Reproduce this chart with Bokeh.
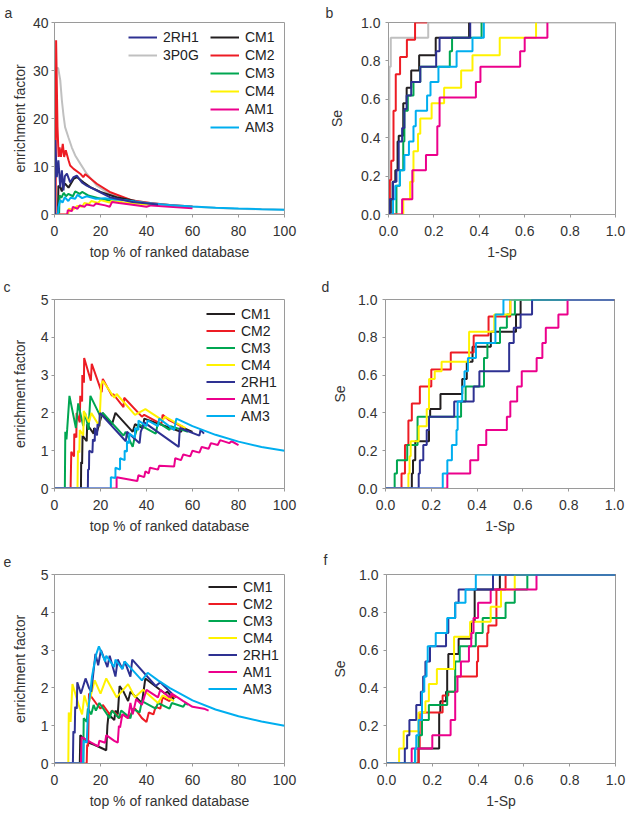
from bokeh.plotting import figure
from bokeh.layouts import column, row
from bokeh.models import Legend, LegendItem, Range1d, FixedTicker, NumeralTickFormatter
from bokeh.embed import file_html
from bokeh.resources import INLINE

FONT = "Liberation Sans"
FRAME_GRAY = "#9a9a9a"
TEXT = "#333333"

C_CM1 = "#231f20"
C_CM2 = "#ed1c24"
C_CM3 = "#00a651"
C_CM4 = "#fff200"
C_2RH1 = "#2e3192"
C_3P0G = "#c0c0c0"
C_AM1 = "#ec008c"
C_AM3 = "#00aeef"

# ---------------- panel a : enrichment factor (% of ranked database) ----------------
a_x_3P0G = [0, 0.3, 0.7, 1.6, 2.5, 3.2, 3.9, 4.6, 6.1, 7.5, 9, 11.2, 14, 18.4, 24, 34, 41.6, 56, 78, 100]
a_y_3P0G = [0, 20, 30.5, 30.5, 28, 23.8, 20.7, 18.2, 16, 14, 12.3, 10.6, 8.5, 6, 4.3, 2.9, 2.4, 1.7, 1.2, 1.0]
a_x_CM2 = [0, 0.5, 0.7, 1.3, 1.8, 2.2, 2.8, 3.6, 4.2, 4.9, 6.1, 6.8, 8.3, 11.2, 12.5, 13.4, 18.4, 24, 34, 41.6, 50, 60]
a_y_CM2 = [0, 0, 36.3, 18.2, 12, 14, 12, 14.7, 12, 13.4, 11.3, 10.2, 9.5, 8.5, 7.8, 8.4, 6.4, 4.7, 2.9, 2.4, 2.0, 1.67]
a_x_CM1 = [0, 1.5, 1.7, 2.5, 3.2, 3.9, 4.6, 6.1, 8.3, 9.7, 12.6, 15.5, 20, 27, 35]
a_y_CM1 = [0, 0, 6, 5.7, 4.8, 6.2, 6.4, 5.6, 7.4, 7.8, 6.7, 5.7, 4.7, 3.6, 2.8]
a_x_CM3 = [0, 2, 2.2, 3, 4, 5, 6, 8, 9, 11, 12, 15, 20, 25, 30, 35]
a_y_CM3 = [0, 0, 4, 3.5, 4.5, 3.8, 4.3, 3.8, 4.8, 4.3, 4.7, 3.9, 3.3, 2.8, 2.4, 2.3]
a_x_CM4 = [0, 6, 6.2, 8, 10, 12, 13, 15, 16, 19, 20, 24, 25, 30, 35, 40, 45]
a_y_CM4 = [0, 0, 1.2, 1.0, 1.8, 1.6, 2.4, 2.2, 2.8, 2.4, 3.0, 2.5, 2.9, 2.5, 2.3, 2.1, 2.0]
a_x_AM1 = [0, 5.5, 5.8, 7.5, 8, 10, 11, 13, 14, 17, 18, 22, 24, 25, 28, 33, 37, 40, 42, 50, 60]
a_y_AM1 = [0, 0, 0.9, 0.7, 1.6, 1.2, 1.9, 1.6, 2.1, 1.8, 2.3, 1.9, 1.6, 2.6, 2.4, 2.1, 1.8, 1.6, 1.9, 1.6, 1.3]
a_x_AM3 = [0, 1.5, 1.7, 2.5, 3.5, 4.5, 6, 7, 9, 10, 12, 14, 18, 22, 26, 30, 40, 50, 60, 70, 80, 90, 100]
a_y_AM3 = [0, 0, 1.5, 3, 2.5, 3.6, 2.8, 3.5, 3.3, 4.1, 3.4, 3.8, 3.3, 3.4, 3.1, 3.0, 2.4, 2.0, 1.67, 1.43, 1.25, 1.11, 1.0]
a_x_2RH1 = [0, 0.2, 0.3, 1.0, 1.7, 2.5, 3.2, 3.9, 4.5, 5.4, 6.8, 8.3, 9.7, 11.9, 14, 18.4, 24, 34, 45]
a_y_2RH1 = [0, 0, 15.5, 7.8, 11.3, 5.7, 9.2, 5, 8, 8.5, 6.7, 7.8, 8.1, 6.7, 6, 5, 3.6, 2.6, 2.1]

# ---------------- panel b : ROC (1-Sp, Se) ----------------
b_x_3P0G = [0, 0.004, 0.01, 0.175, 1.0]
b_y_3P0G = [0, 0.77, 0.92, 1.0, 1.0]
b_x_CM2 = [0, 0.006, 0.012, 0.022, 0.032, 0.051, 0.081, 0.117, 0.17]
b_y_CM2 = [0, 0.18, 0.28, 0.54, 0.73, 0.82, 0.91, 1.0, 1.0]
b_x_CM1 = [0, 0.01, 0.018, 0.03, 0.04, 0.045, 0.065, 0.08, 0.1, 0.135, 0.208, 0.355]
b_y_CM1 = [0, 0.08, 0.17, 0.23, 0.38, 0.41, 0.58, 0.66, 0.75, 0.83, 0.92, 1.0]
b_x_2RH1 = [0, 0.005, 0.02, 0.035, 0.045, 0.06, 0.07, 0.08, 0.1, 0.14, 0.21, 0.225, 0.36]
b_y_2RH1 = [0, 0.08, 0.17, 0.23, 0.38, 0.45, 0.55, 0.62, 0.69, 0.77, 0.85, 0.92, 1.0]
b_x_CM3 = [0, 0.035, 0.05, 0.065, 0.07, 0.085, 0.11, 0.14, 0.27, 0.28, 0.41]
b_y_CM3 = [0, 0.15, 0.23, 0.38, 0.54, 0.62, 0.69, 0.77, 0.85, 0.92, 1.0]
b_x_AM3 = [0, 0.02, 0.03, 0.05, 0.07, 0.09, 0.11, 0.12, 0.17, 0.185, 0.22, 0.30, 0.37, 0.42]
b_y_AM3 = [0, 0.08, 0.15, 0.23, 0.31, 0.38, 0.46, 0.54, 0.62, 0.69, 0.77, 0.85, 0.92, 1.0]
b_x_CM4 = [0, 0.065, 0.095, 0.11, 0.13, 0.14, 0.19, 0.245, 0.32, 0.37, 0.49, 0.65]
b_y_CM4 = [0, 0.08, 0.17, 0.33, 0.42, 0.50, 0.58, 0.66, 0.75, 0.83, 0.92, 1.0]
b_x_AM1 = [0, 0.06, 0.105, 0.165, 0.215, 0.225, 0.385, 0.405, 0.58, 0.6, 0.70]
b_y_AM1 = [0, 0.08, 0.23, 0.31, 0.46, 0.61, 0.69, 0.77, 0.85, 0.92, 1.0]

# ---------------- panel c : enrichment factor ----------------
c_x_CM1 = [0, 11.5, 11.6, 12, 12.2, 14, 14.2, 17, 17.2, 18.5, 20.8, 25, 26.5, 34, 35, 38.5, 39, 55, 56, 60]
c_y_CM1 = [0, 0, 0.7, 0.65, 1.4, 1.25, 1.7, 1.45, 1.6, 1.5, 2.0, 1.7, 2.0, 1.5, 1.7, 1.6, 1.85, 1.5, 1.6, 1.5]
c_x_CM2 = [0, 7, 7.3, 8.5, 8.6, 9.5, 9.6, 11, 11.2, 12, 12.1, 12.8, 12.9, 15.8, 16.2, 20.5, 21, 25, 25.5, 30, 30.3, 38, 39, 46.5, 47, 50, 56]
c_y_CM2 = [0, 0, 0.97, 0.85, 1.45, 1.35, 2.0, 1.75, 2.45, 2.3, 3.0, 2.8, 3.45, 2.85, 3.3, 2.55, 2.9, 2.45, 2.5, 2.15, 2.4, 1.9, 1.95, 1.7, 1.95, 1.8, 1.62]
c_x_CM3 = [0, 4.5, 4.7, 5.2, 5.5, 6.5, 9.3, 10.3, 12.5, 13.3, 14.8, 15.6, 20, 21, 30, 31, 34, 35, 36.5, 44, 45, 50, 50.5, 58]
c_y_CM3 = [0, 0, 1.5, 1.3, 1.55, 2.45, 1.6, 2.25, 1.65, 2.0, 1.55, 2.45, 1.9, 2.0, 1.4, 1.5, 1.1, 1.4, 1.7, 1.45, 1.75, 1.55, 1.65, 1.5]
c_x_CM4 = [0, 10, 10.2, 10.8, 11, 12.5, 12.7, 15, 16, 19.5, 20.3, 21, 26, 27, 35, 39.5, 47, 48, 57]
c_y_CM4 = [0, 0, 1.0, 0.95, 1.55, 1.4, 2.05, 1.75, 2.0, 1.65, 2.75, 2.85, 2.4, 2.5, 1.95, 2.1, 1.8, 1.9, 1.6]
c_x_2RH1 = [0, 14.5, 14.6, 15, 15.1, 16.5, 16.7, 17.5, 17.6, 18.5, 18.7, 19.5, 19.7, 31, 31.5, 37, 37.5, 39, 54, 54.5, 63, 63.5, 65]
c_y_2RH1 = [0, 0, 0.5, 0.5, 1.0, 0.95, 1.3, 1.25, 1.6, 1.4, 1.7, 1.65, 2.0, 1.25, 1.5, 1.2, 1.5, 1.75, 1.1, 1.6, 1.4, 1.55, 1.45]
c_x_AM1 = [0, 27, 27, 36, 36.5, 39, 39.5, 41, 41.5, 45, 45.5, 52, 52.5, 55, 56, 59, 60, 63, 64, 67, 68, 71, 72, 76, 77, 80]
c_y_AM1 = [0, 0, 0.3, 0.2, 0.35, 0.3, 0.45, 0.4, 0.55, 0.5, 0.6, 0.58, 0.8, 0.75, 0.9, 0.85, 1.0, 0.95, 1.1, 1.05, 1.2, 1.15, 1.28, 1.2, 1.25, 1.15]
c_x_AM3 = [0, 24.5, 24.5, 26.5, 26.5, 28.5, 28.5, 30.5, 30.5, 31.5, 31.5, 32.5, 32.5, 35, 35, 36.5, 36.5, 40, 40.5, 45, 45.5, 52, 53, 60, 70, 80, 90, 100]
c_y_AM3 = [0, 0, 0.3, 0.28, 0.55, 0.5, 0.8, 0.75, 1.0, 0.98, 1.25, 1.2, 1.45, 1.35, 1.6, 1.55, 1.8, 1.65, 1.8, 1.65, 1.85, 1.55, 1.85, 1.65, 1.42, 1.24, 1.1, 1.0]

# ---------------- panel d : ROC ----------------
d_x_CM1 = [0, 0.115, 0.12, 0.13, 0.19, 0.195, 0.24, 0.335, 0.355, 0.38, 0.46, 0.57, 0.59, 1.0]
d_y_CM1 = [0, 0.08, 0.15, 0.25, 0.38, 0.42, 0.5, 0.58, 0.67, 0.75, 0.83, 0.92, 1.0, 1.0]
d_x_CM2 = [0, 0.07, 0.085, 0.1, 0.115, 0.15, 0.2, 0.285, 0.385, 0.45, 0.545, 1.0]
d_y_CM2 = [0, 0.08, 0.23, 0.36, 0.45, 0.54, 0.63, 0.72, 0.81, 0.91, 1.0, 1.0]
d_x_CM3 = [0, 0.04, 0.05, 0.095, 0.14, 0.33, 0.35, 0.43, 0.445, 0.5, 0.53, 0.565, 1.0]
d_y_CM3 = [0, 0.08, 0.15, 0.23, 0.38, 0.46, 0.54, 0.69, 0.77, 0.85, 0.92, 1.0, 1.0]
d_x_CM4 = [0, 0.1, 0.105, 0.11, 0.145, 0.18, 0.19, 0.215, 0.245, 0.365, 0.475, 0.545, 1.0]
d_y_CM4 = [0, 0.08, 0.17, 0.25, 0.33, 0.42, 0.58, 0.62, 0.67, 0.83, 0.92, 1.0, 1.0]
d_x_2RH1 = [0, 0.145, 0.15, 0.165, 0.18, 0.19, 0.3, 0.385, 0.41, 0.54, 0.56, 0.59, 0.64, 1.0]
d_y_2RH1 = [0, 0.08, 0.15, 0.23, 0.31, 0.38, 0.46, 0.54, 0.62, 0.77, 0.85, 0.92, 1.0, 1.0]
d_x_AM1 = [0, 0.27, 0.37, 0.405, 0.44, 0.53, 0.545, 0.575, 0.595, 0.66, 0.685, 0.7, 0.755, 0.795, 1.0]
d_y_AM1 = [0, 0.08, 0.15, 0.23, 0.31, 0.38, 0.46, 0.54, 0.62, 0.69, 0.77, 0.85, 0.92, 1.0, 1.0]
d_x_AM3 = [0, 0.25, 0.27, 0.29, 0.31, 0.315, 0.335, 0.345, 0.36, 0.395, 0.48, 0.515, 1.0]
d_y_AM3 = [0, 0.08, 0.15, 0.23, 0.31, 0.46, 0.54, 0.62, 0.69, 0.77, 0.92, 1.0, 1.0]

# ---------------- panel e : enrichment factor ----------------
e_x_CM1 = [0, 11, 11.2, 13, 15, 17, 19, 22.5, 23, 23.5, 26, 26.5, 27.5, 28.3, 30, 32, 33, 38, 39.5, 48, 49, 52]
e_y_CM1 = [0, 0, 0.75, 0.65, 0.55, 0.5, 0.45, 0.35, 1.0, 1.3, 1.15, 1.4, 1.3, 2.05, 1.9, 1.65, 1.9, 1.6, 2.25, 1.85, 1.9, 1.7]
e_x_CM2 = [0, 14, 14.2, 14.6, 15, 18, 20, 21, 24, 25, 27, 28, 30, 32, 35, 38, 40, 41, 43, 44, 46, 47, 50, 51, 53]
e_y_CM2 = [0, 0, 0.5, 0.45, 1.85, 1.6, 1.45, 1.55, 1.3, 1.4, 1.3, 1.2, 1.3, 1.2, 1.45, 1.2, 1.1, 1.35, 1.3, 1.5, 1.45, 1.75, 1.65, 1.8, 1.75]
e_x_CM3 = [0, 12.5, 12.7, 14, 14.5, 16, 17, 18, 19.5, 24, 25, 28, 29, 33, 34, 37, 38, 44, 45, 50, 51, 56, 57, 58]
e_y_CM3 = [0, 0, 1.2, 1.1, 1.45, 1.3, 1.55, 1.4, 1.6, 1.2, 1.4, 1.2, 1.4, 1.2, 1.45, 1.35, 1.65, 1.45, 1.6, 1.45, 1.6, 1.5, 1.6, 1.55]
e_x_CM4 = [0, 6, 6.2, 7, 7.8, 10.5, 12, 13, 14.5, 17.5, 20, 22.5, 27, 32, 35, 38.5, 45, 47, 52]
e_y_CM4 = [0, 0, 1.35, 1.1, 2.1, 1.55, 1.3, 1.8, 1.5, 2.2, 1.85, 2.25, 1.75, 2.1, 1.75, 1.95, 1.6, 1.8, 1.65]
e_x_2RH1 = [0, 8, 8.2, 8.8, 9, 9.7, 9.9, 11.5, 13.5, 15, 16, 17.8, 19, 20.2, 23, 24, 26.5, 27.5, 29.5, 30.5, 33, 33.8, 44, 46, 51]
e_y_2RH1 = [0, 0, 0.85, 0.8, 1.5, 1.45, 2.15, 1.85, 2.25, 2.0, 1.9, 2.9, 2.6, 3.0, 2.55, 2.85, 2.3, 2.75, 2.5, 2.7, 2.3, 2.75, 2.05, 2.15, 1.85]
e_x_AM1 = [0, 11.5, 11.8, 16, 19, 19.5, 22, 22.5, 26, 27.5, 28, 28.5, 29.5, 32, 33, 34, 35.5, 38, 40, 45, 46, 50, 51, 56, 60, 65, 67]
e_y_AM1 = [0, 0, 0.7, 0.55, 0.45, 0.6, 0.55, 0.75, 0.6, 0.55, 1.0, 0.95, 1.3, 1.2, 1.6, 1.3, 1.7, 1.55, 1.95, 1.75, 1.95, 1.75, 1.85, 1.65, 1.5, 1.45, 1.4]
e_x_AM3 = [0, 12.5, 12.7, 14, 14.3, 14.8, 15.6, 16.3, 17.2, 18.2, 19.3, 22, 22.5, 26, 26.5, 29.5, 30.5, 38, 40.5, 45, 50, 60, 70, 80, 90, 100]
e_y_AM3 = [0, 0, 0.6, 0.55, 1.0, 1.5, 1.9, 2.3, 2.6, 2.9, 3.1, 2.7, 2.85, 2.55, 2.75, 2.5, 2.7, 2.2, 2.4, 2.2, 2.0, 1.67, 1.43, 1.25, 1.11, 1.0]

# ---------------- panel f : ROC ----------------
f_x_CM1 = [0, 0.14, 0.23, 0.235, 0.26, 0.265, 0.27, 0.315, 0.37, 0.385, 0.495, 1.0]
f_y_CM1 = [0, 0.08, 0.27, 0.33, 0.38, 0.5, 0.58, 0.66, 0.75, 0.92, 1.0, 1.0]
f_x_CM2 = [0, 0.14, 0.145, 0.245, 0.27, 0.3, 0.395, 0.4, 0.44, 0.445, 0.48, 0.52, 1.0]
f_y_CM2 = [0, 0.08, 0.27, 0.36, 0.38, 0.46, 0.54, 0.62, 0.69, 0.73, 0.92, 1.0, 1.0]
f_x_CM3 = [0, 0.125, 0.14, 0.155, 0.185, 0.265, 0.3, 0.32, 0.39, 0.42, 0.52, 0.56, 0.615, 1.0]
f_y_CM3 = [0, 0.08, 0.15, 0.23, 0.31, 0.38, 0.54, 0.62, 0.69, 0.77, 0.85, 0.92, 1.0, 1.0]
f_x_CM4 = [0, 0.055, 0.075, 0.14, 0.17, 0.185, 0.22, 0.295, 0.365, 0.455, 0.5, 0.56, 1.0]
f_y_CM4 = [0, 0.08, 0.17, 0.27, 0.33, 0.42, 0.5, 0.67, 0.75, 0.83, 0.92, 1.0, 1.0]
f_x_2RH1 = [0, 0.08, 0.09, 0.1, 0.13, 0.15, 0.16, 0.17, 0.19, 0.26, 0.27, 0.3, 0.315, 0.465, 1.0]
f_y_2RH1 = [0, 0.08, 0.15, 0.23, 0.31, 0.38, 0.46, 0.54, 0.62, 0.69, 0.77, 0.85, 0.92, 1.0, 1.0]
f_x_AM1 = [0, 0.11, 0.2, 0.28, 0.3, 0.31, 0.325, 0.36, 0.37, 0.38, 0.4, 0.455, 0.655, 1.0]
f_y_AM1 = [0, 0.08, 0.15, 0.23, 0.38, 0.46, 0.54, 0.62, 0.69, 0.77, 0.85, 0.92, 1.0, 1.0]
f_x_AM3 = [0, 0.125, 0.13, 0.14, 0.155, 0.165, 0.175, 0.18, 0.215, 0.265, 0.3, 0.345, 0.39, 1.0]
f_y_AM3 = [0, 0.08, 0.15, 0.23, 0.38, 0.46, 0.54, 0.62, 0.69, 0.77, 0.85, 0.92, 1.0, 1.0]

ef_xticks = [0, 20, 40, 60, 80, 100]
a_yticks = [0, 10, 20, 30, 40]
ce_yticks = [0, 1, 2, 3, 4, 5]
roc_ticks = [0.0, 0.2, 0.4, 0.6, 0.8, 1.0]


def make_fig(fw, fh, bl, bt, br, bb, xr, yr, xt, yt, xlabel, ylabel,
             y_std, y_lab_std, letter, l_off, l_std, fmt=None):
    p = figure(frame_width=fw, frame_height=fh,
               min_border_left=bl, min_border_top=bt, min_border_right=br, min_border_bottom=bb,
               x_range=Range1d(*xr), y_range=Range1d(*yr), title=letter,
               output_backend="svg", toolbar_location=None, tools="")
    p.title.align = "left"
    p.title.offset = l_off
    p.title.standoff = l_std
    p.title.text_font = FONT
    p.title.text_font_size = "14px"
    p.title.text_font_style = "normal"
    p.title.text_color = TEXT
    p.xgrid.visible = False
    p.ygrid.visible = False
    p.outline_line_color = FRAME_GRAY
    p.outline_line_width = 1
    p.background_fill_color = "white"
    p.border_fill_color = "white"
    for ax, ticks, lab in ((p.xaxis[0], xt, xlabel), (p.yaxis[0], yt, ylabel)):
        ax.ticker = FixedTicker(ticks=ticks)
        ax.axis_line_color = FRAME_GRAY
        ax.major_tick_line_color = FRAME_GRAY
        ax.major_tick_out = 3
        ax.major_tick_in = 0
        ax.minor_tick_line_color = None
        ax.major_label_text_font = FONT
        ax.major_label_text_font_size = "14px"
        ax.major_label_text_color = TEXT
        ax.axis_label = lab
        ax.axis_label_text_font = FONT
        ax.axis_label_text_font_size = "14px"
        ax.axis_label_text_font_style = "normal"
        ax.axis_label_text_color = TEXT
        if fmt:
            ax.formatter = NumeralTickFormatter(format=fmt)
    p.xaxis[0].major_label_standoff = 8
    p.xaxis[0].axis_label_standoff = 5
    p.yaxis[0].major_label_standoff = y_std
    p.yaxis[0].axis_label_standoff = y_lab_std
    return p


def make_legend(items, x, y, row_h):
    return Legend(items=items, location=(x, y), orientation="vertical",
                  padding=0, margin=0, spacing=0, glyph_width=29, glyph_height=row_h,
                  label_height=row_h, label_standoff=6,
                  border_line_color=None, background_fill_alpha=0,
                  label_text_font=FONT, label_text_font_size="14px", label_text_color="#222222")


LW = 2

# ---- panel a
pa = make_fig(230, 192, 54, 22, 36, 56, (0, 100), (0, 40), ef_xticks, a_yticks,
              "top % of ranked database", "enrichment factor", 3, 2, "a", -50, 4)
ra = {}
ra["3P0G"] = pa.line(a_x_3P0G, a_y_3P0G, line_color=C_3P0G, line_width=LW)
ra["CM2"] = pa.line(a_x_CM2, a_y_CM2, line_color=C_CM2, line_width=LW)
ra["CM1"] = pa.line(a_x_CM1, a_y_CM1, line_color=C_CM1, line_width=LW)
ra["CM3"] = pa.line(a_x_CM3, a_y_CM3, line_color=C_CM3, line_width=LW)
ra["CM4"] = pa.line(a_x_CM4, a_y_CM4, line_color=C_CM4, line_width=LW)
ra["AM1"] = pa.line(a_x_AM1, a_y_AM1, line_color=C_AM1, line_width=LW)
ra["AM3"] = pa.line(a_x_AM3, a_y_AM3, line_color=C_AM3, line_width=LW)
ra["2RH1"] = pa.line(a_x_2RH1, a_y_2RH1, line_color=C_2RH1, line_width=LW)
pa.add_layout(make_legend([LegendItem(label=k, renderers=[ra[k]]) for k in ["2RH1", "3P0G"]], 74, 150, 18))
pa.add_layout(make_legend([LegendItem(label=k, renderers=[ra[k]]) for k in ["CM1", "CM2", "CM3", "CM4", "AM1", "AM3"]], 156, 78, 18))

# ---- panel b
pb = make_fig(227, 192, 68, 22, 16, 56, (0, 1), (0, 1), roc_ticks, roc_ticks,
              "1-Sp", "Se", 5, 13, "b", -63, 4, "0.0")
pb.step(b_x_3P0G, b_y_3P0G, mode="after", line_color=C_3P0G, line_width=LW)
pb.step(b_x_CM2, b_y_CM2, mode="after", line_color=C_CM2, line_width=LW)
pb.step(b_x_CM1, b_y_CM1, mode="after", line_color=C_CM1, line_width=LW)
pb.step(b_x_CM3, b_y_CM3, mode="after", line_color=C_CM3, line_width=LW)
pb.step(b_x_CM4, b_y_CM4, mode="after", line_color=C_CM4, line_width=LW)
pb.step(b_x_AM1, b_y_AM1, mode="after", line_color=C_AM1, line_width=LW)
pb.step(b_x_AM3, b_y_AM3, mode="after", line_color=C_AM3, line_width=LW)
pb.step(b_x_2RH1, b_y_2RH1, mode="after", line_color=C_2RH1, line_width=LW)

# ---- panel c
pc = make_fig(230, 189, 54, 29, 36, 52, (0, 100), (0, 5), ef_xticks, ce_yticks,
              "top % of ranked database", "enrichment factor", 3, 10, "c", -51, 9)
rc = {}
rc["CM1"] = pc.line(c_x_CM1, c_y_CM1, line_color=C_CM1, line_width=LW)
rc["CM2"] = pc.line(c_x_CM2, c_y_CM2, line_color=C_CM2, line_width=LW)
rc["CM3"] = pc.line(c_x_CM3, c_y_CM3, line_color=C_CM3, line_width=LW)
rc["CM4"] = pc.line(c_x_CM4, c_y_CM4, line_color=C_CM4, line_width=LW)
rc["2RH1"] = pc.line(c_x_2RH1, c_y_2RH1, line_color=C_2RH1, line_width=LW)
rc["AM1"] = pc.line(c_x_AM1, c_y_AM1, line_color=C_AM1, line_width=LW)
rc["AM3"] = pc.line(c_x_AM3, c_y_AM3, line_color=C_AM3, line_width=LW)
pc.add_layout(make_legend([LegendItem(label=k, renderers=[rc[k]]) for k in ["CM1", "CM2", "CM3", "CM4", "2RH1", "AM1", "AM3"]], 152, 64, 17))

# ---- panel d
pd_ = make_fig(229, 189, 65, 29, 17, 52, (0, 1), (0, 1), roc_ticks, roc_ticks,
               "1-Sp", "Se", 5, 7, "d", -64, 9, "0.0")
pd_.step(d_x_CM1, d_y_CM1, mode="after", line_color=C_CM1, line_width=LW)
pd_.step(d_x_CM2, d_y_CM2, mode="after", line_color=C_CM2, line_width=LW)
pd_.step(d_x_CM3, d_y_CM3, mode="after", line_color=C_CM3, line_width=LW)
pd_.step(d_x_CM4, d_y_CM4, mode="after", line_color=C_CM4, line_width=LW)
pd_.step(d_x_2RH1, d_y_2RH1, mode="after", line_color=C_2RH1, line_width=LW)
pd_.step(d_x_AM1, d_y_AM1, mode="after", line_color=C_AM1, line_width=LW)
pd_.step(d_x_AM3, d_y_AM3, mode="after", line_color=C_AM3, line_width=LW)

# ---- panel e
pe = make_fig(230, 189, 54, 34, 36, 50, (0, 100), (0, 5), ef_xticks, ce_yticks,
              "top % of ranked database", "enrichment factor", 3, 10, "e", -51, 15)
re_ = {}
re_["CM1"] = pe.line(e_x_CM1, e_y_CM1, line_color=C_CM1, line_width=LW)
re_["CM2"] = pe.line(e_x_CM2, e_y_CM2, line_color=C_CM2, line_width=LW)
re_["CM3"] = pe.line(e_x_CM3, e_y_CM3, line_color=C_CM3, line_width=LW)
re_["CM4"] = pe.line(e_x_CM4, e_y_CM4, line_color=C_CM4, line_width=LW)
re_["2RH1"] = pe.line(e_x_2RH1, e_y_2RH1, line_color=C_2RH1, line_width=LW)
re_["AM1"] = pe.line(e_x_AM1, e_y_AM1, line_color=C_AM1, line_width=LW)
re_["AM3"] = pe.line(e_x_AM3, e_y_AM3, line_color=C_AM3, line_width=LW)
pe.add_layout(make_legend([LegendItem(label=k, renderers=[re_[k]]) for k in ["CM1", "CM2", "CM3", "CM4", "2RH1", "AM1", "AM3"]], 154, 66, 17))

# ---- panel f
pf = make_fig(229, 189, 66, 34, 16, 50, (0, 1), (0, 1), roc_ticks, roc_ticks,
              "1-Sp", "Se", 5, 8, "f", -63, 14, "0.0")
pf.step(f_x_CM1, f_y_CM1, mode="after", line_color=C_CM1, line_width=LW)
pf.step(f_x_CM2, f_y_CM2, mode="after", line_color=C_CM2, line_width=LW)
pf.step(f_x_CM3, f_y_CM3, mode="after", line_color=C_CM3, line_width=LW)
pf.step(f_x_CM4, f_y_CM4, mode="after", line_color=C_CM4, line_width=LW)
pf.step(f_x_AM1, f_y_AM1, mode="after", line_color=C_AM1, line_width=LW)
pf.step(f_x_2RH1, f_y_2RH1, mode="after", line_color=C_2RH1, line_width=LW)
pf.step(f_x_AM3, f_y_AM3, mode="after", line_color=C_AM3, line_width=LW)

layout = column(row(pa, pb), row(pc, pd_), row(pe, pf))
open("out.html", "w").write(file_html(layout, INLINE))
